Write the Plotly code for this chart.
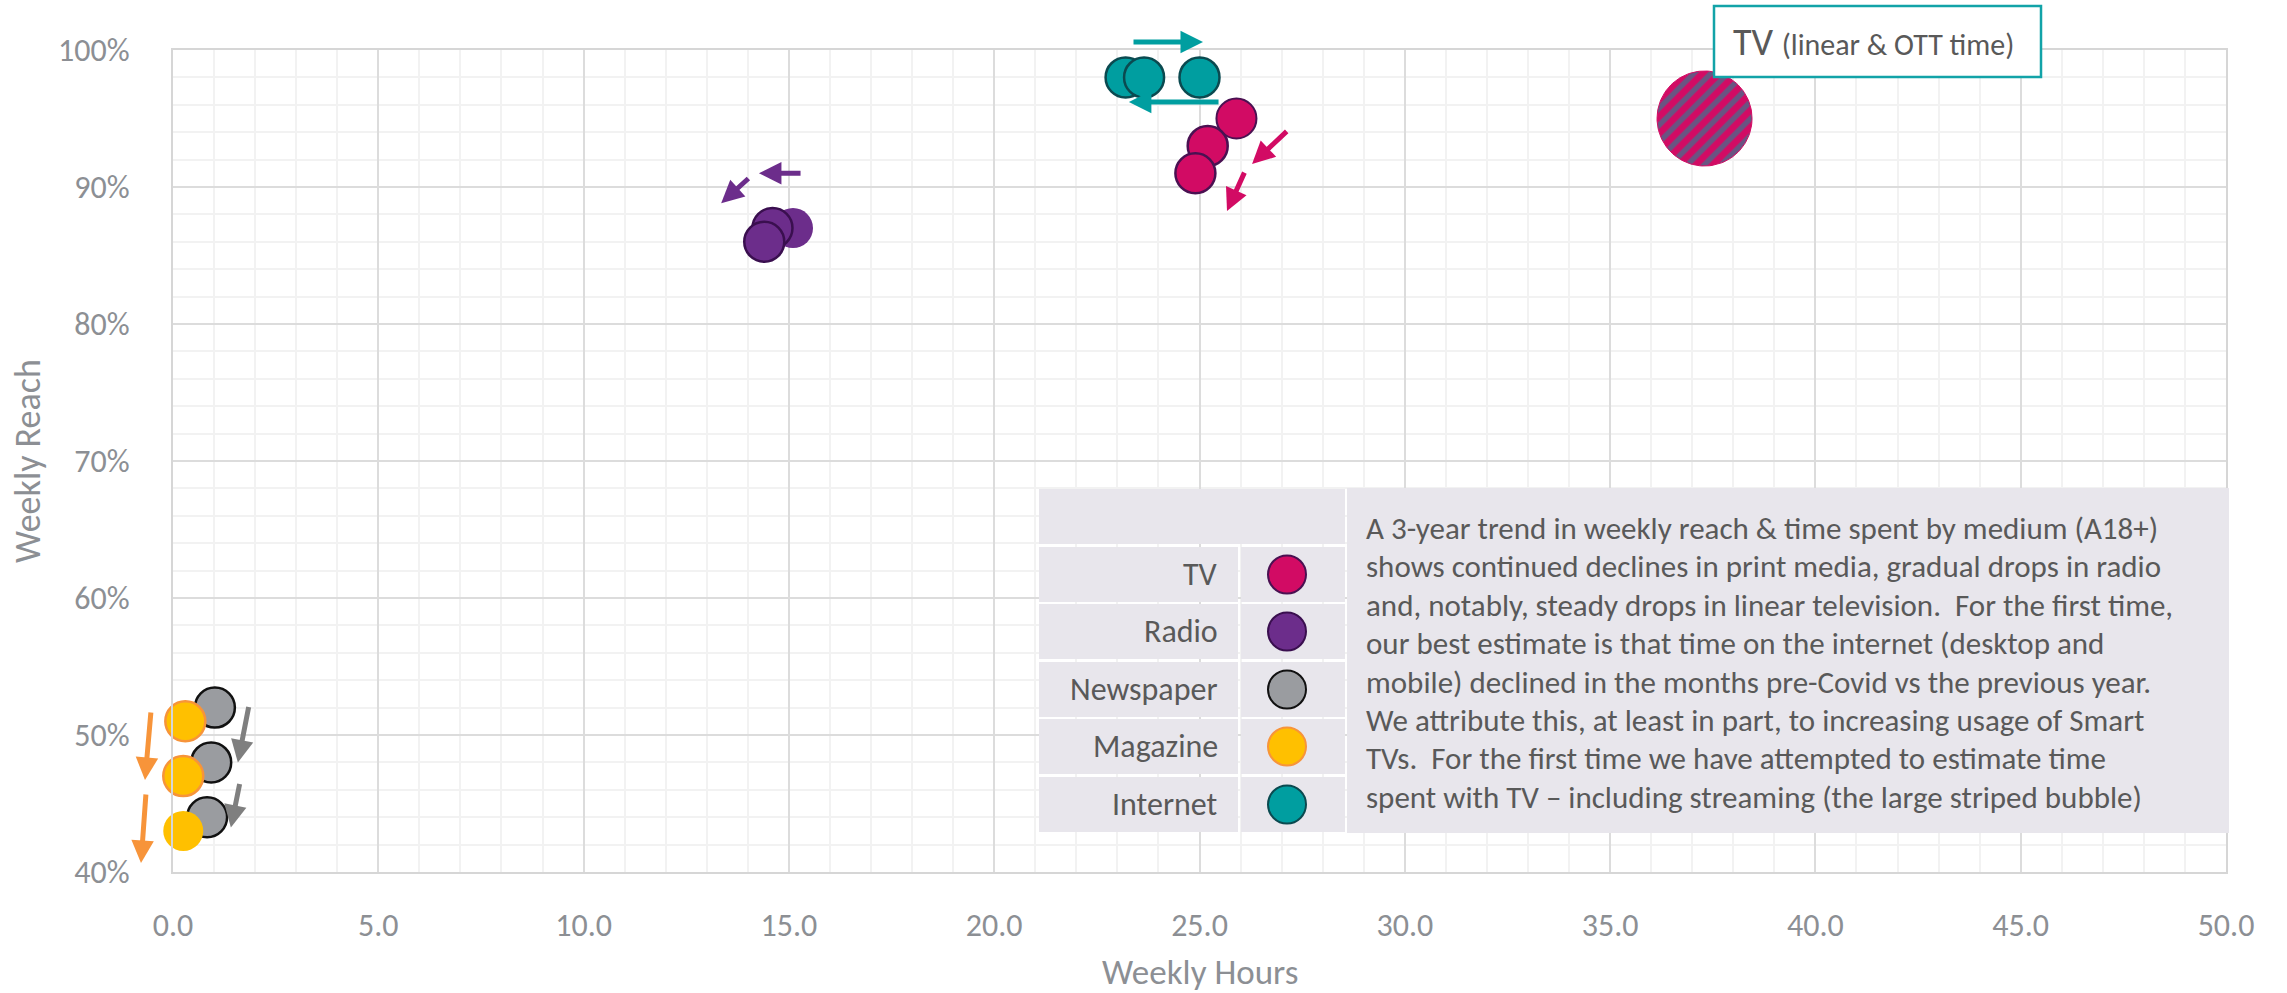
import numpy as np
import plotly.graph_objects as go

# ---------------- data ----------------
media = ["TV", "Radio", "Newspaper", "Magazine", "Internet"]

tv_hours = [25.9, 25.2, 24.9]
tv_reach = [95, 93, 91]
radio_hours = [15.1, 14.6, 14.4]
radio_reach = [87, 87, 86]
news_hours = [1.02, 0.93, 0.83]
news_reach = [52, 48, 44]
mag_hours = [0.3, 0.25, 0.25]
mag_reach = [51, 47, 43]
net_hours = [23.2, 25.0, 23.65]
net_reach = [98, 98, 98]

tv_total_hours = 37.3   # linear + OTT (striped bubble)
tv_total_reach = 95

x_ticks = [0, 5, 10, 15, 20, 25, 30, 35, 40, 45, 50]
y_ticks = [40, 50, 60, 70, 80, 90, 100]
y_tick_text = ["40%", "50%", "60%", "70%", "80%", "90%", "100%"]

note_lines = [
    "A 3-year trend in weekly reach & time spent by medium (A18+)",
    "shows continued declines in print media, gradual drops in radio",
    "and, notably, steady drops in linear television.  For the first time,",
    "our best estimate is that time on the internet (desktop and",
    "mobile) declined in the months pre-Covid vs the previous year.",
    "We attribute this, at least in part, to increasing usage of Smart",
    "TVs.  For the first time we have attempted to estimate time",
    "spent with TV \u2013 including streaming (the large striped bubble)",
]

# ---------------- styles ----------------
C_TV = "#D20B64"
C_RADIO = "#6C2D8B"
C_NEWS = "#9A9CA0"
C_MAG = "#FFC000"
C_NET = "#009EA0"
FONT = "Carlito, Lato, sans-serif"
AX_COL = "#8C8F94"
TXT_COL = "#595959"

W_PX, H_PX = 2287, 993
L, R, T, B = 173, 2226, 50, 872


def pxx(x):
    return (x - L) / (R - L)


def pxy(y):
    return (B - y) / (B - T)


fig = go.Figure()

BUB = 40


def add_series(hx, ry, color, lines, lwidths, name):
    fig.add_trace(go.Scatter(
        x=hx, y=ry, mode="markers", name=name, showlegend=False,
        marker=dict(size=BUB, color=color, opacity=1,
                    line=dict(color=lines, width=lwidths)),
        cliponaxis=False, hoverinfo="x+y+name"))


add_series(news_hours, news_reach, C_NEWS, "#111111", [2.5, 2.5, 2.5], "Newspaper")
add_series(mag_hours, mag_reach, C_MAG, "#F7943A", [2.5, 2.5, 0], "Magazine")
add_series(radio_hours, radio_reach, C_RADIO, "#3A0F4F", [0, 2.5, 2.5], "Radio")
add_series(net_hours, net_reach, C_NET, "#0B4A50", [2.5, 2.5, 2.5], "Internet")
add_series(tv_hours, tv_reach, C_TV, "#4A1152", [2, 2.5, 2.5], "TV")

# striped bubble: circle of 95 px diameter around the total-TV point
rad_px = 47.5
rx = rad_px * 50 / (R - L)
ry = rad_px * 60 / (B - T)
th = np.linspace(0, 2 * np.pi, 121)
fig.add_trace(go.Scatter(
    x=tv_total_hours + rx * np.cos(th), y=tv_total_reach + ry * np.sin(th),
    mode="lines", fill="toself", line=dict(color=C_TV, width=1),
    fillcolor=C_TV,
    fillpattern=dict(shape="/", fgcolor=C_NET, bgcolor=C_TV, size=12, solidity=0.45),
    showlegend=False, hoverinfo="skip"))

annotations = []
shapes = []

# arrows (tail x, tail y, head x, head y, colour) in data units
arrows = [
    (25.50, 96.2, 23.28, 96.2, C_NET),
    (27.16, 94.16, 26.28, 91.67, C_TV),
    (26.11, 91.16, 25.67, 88.24, C_TV),
    (15.32, 91.0, 14.27, 91.0, C_RADIO),
    (14.05, 90.72, 13.35, 88.82, C_RADIO),
    (1.85, 52.15, 1.58, 47.99, "#7F7F7F"),
    (1.63, 46.53, 1.41, 43.25, "#7F7F7F"),
]
for tx, ty, hx, hy, col in arrows:
    annotations.append(dict(x=hx, y=hy, ax=tx, ay=ty, xref="x", yref="y",
                            axref="x", ayref="y", text="", showarrow=True,
                            arrowhead=2, arrowsize=0.9, arrowwidth=5,
                            arrowcolor=col, standoff=0))
# arrows that sit outside the plot area -> paper/pixel refs
outside = [(1132, 42, 1203, 42, C_NET),
           (151, 711, 145, 780, "#F7943A"),
           (146, 793, 141, 863, "#F7943A")]
for (tx, ty, hx, hy, col) in outside:
    annotations.append(dict(x=pxx(hx), y=pxy(hy), xref="paper", yref="paper",
                            ax=tx - hx, ay=ty - hy, axref="pixel", ayref="pixel",
                            text="", showarrow=True, arrowhead=2, arrowsize=0.9,
                            arrowwidth=5, arrowcolor=col, standoff=0))

# TV title box
shapes.append(dict(type="rect", xref="paper", yref="paper",
                   x0=pxx(1714), x1=pxx(2041), y0=pxy(77), y1=pxy(6),
                   line=dict(color="#12A3A8", width=2.5), fillcolor="white", layer="above"))
annotations.append(dict(
    x=pxx(1731), y=pxy(42), xref="paper", yref="paper", xanchor="left", yanchor="middle",
    text="TV <span style='font-size:30px'>(linear &amp; OTT time)</span>",
    showarrow=False, font=dict(family=FONT, size=38, color=TXT_COL)))

# legend table
CELL = "#E8E6EC"
rows = [(547, 602), (604, 659), (662, 717), (719, 774), (777, 832)]
shapes.append(dict(type="rect", xref="paper", yref="paper",
                   x0=pxx(1039), x1=pxx(1345), y0=pxy(544), y1=pxy(489),
                   line=dict(width=0), fillcolor=CELL, layer="above"))
leg_cols = [C_TV, C_RADIO, C_NEWS, C_MAG, C_NET]
leg_lines = ["#4A1152", "#3A0F4F", "#111111", "#F7943A", "#0B4A50"]
for (y0, y1), name, col, lc in zip(rows, media, leg_cols, leg_lines):
    shapes.append(dict(type="rect", xref="paper", yref="paper",
                       x0=pxx(1039), x1=pxx(1238), y0=pxy(y1), y1=pxy(y0),
                       line=dict(width=0), fillcolor=CELL, layer="above"))
    shapes.append(dict(type="rect", xref="paper", yref="paper",
                       x0=pxx(1241), x1=pxx(1345), y0=pxy(y1), y1=pxy(y0),
                       line=dict(width=0), fillcolor=CELL, layer="above"))
    yc = (y0 + y1) / 2
    shapes.append(dict(type="circle", xref="paper", yref="paper",
                       x0=pxx(1287 - 19), x1=pxx(1287 + 19), y0=pxy(yc + 19), y1=pxy(yc - 19),
                       line=dict(color=lc, width=2), fillcolor=col, layer="above"))
    annotations.append(dict(x=pxx(1220), y=pxy(yc), xref="paper", yref="paper",
                            xanchor="right", yanchor="middle", text=name, showarrow=False,
                            font=dict(family=FONT, size=32, color=TXT_COL)))

# note box
shapes.append(dict(type="rect", xref="paper", yref="paper",
                   x0=pxx(1347), x1=pxx(2229), y0=pxy(833), y1=pxy(488),
                   line=dict(width=0), fillcolor=CELL, layer="above"))
for i, line in enumerate(note_lines):
    annotations.append(dict(x=pxx(1364), y=pxy(528 + 38.4 * i), xref="paper", yref="paper",
                            xanchor="left", yanchor="middle", text=line, showarrow=False,
                            font=dict(family=FONT, size=31, color=TXT_COL)))

# axis titles
annotations.append(dict(x=0.5, y=pxy(972), xref="paper", yref="paper", text="Weekly Hours",
                        showarrow=False, xanchor="center", yanchor="middle",
                        font=dict(family=FONT, size=35, color=AX_COL)))
annotations.append(dict(x=pxx(28), y=pxy(461), xref="paper", yref="paper", text="Weekly Reach",
                        showarrow=False, textangle=-90, xanchor="center", yanchor="middle",
                        font=dict(family=FONT, size=36, color=AX_COL)))

fig.update_layout(
    width=W_PX, height=H_PX, autosize=False,
    margin=dict(l=L, r=W_PX - R, t=T, b=H_PX - B, pad=0),
    paper_bgcolor="white", plot_bgcolor="white",
    shapes=shapes, annotations=annotations,
    font=dict(family=FONT, color=AX_COL),
    xaxis=dict(range=[0, 50], tickvals=x_ticks, tickformat=".1f",
               showgrid=True, gridcolor="#DCDCDC", gridwidth=1.5,
               minor=dict(dtick=1, showgrid=True, gridcolor="#F2F2F2", gridwidth=1.5),
               showline=True, linecolor="#D6D6D6", linewidth=2, mirror=True,
               zeroline=False, ticks="", ticklabelstandoff=24,
               tickfont=dict(family=FONT, size=32, color=AX_COL), fixedrange=True),
    yaxis=dict(range=[40, 100], tickvals=y_ticks, ticktext=y_tick_text,
               showgrid=True, gridcolor="#DCDCDC", gridwidth=1.5,
               minor=dict(dtick=2, showgrid=True, gridcolor="#F2F2F2", gridwidth=1.5),
               showline=True, linecolor="#D6D6D6", linewidth=2, mirror=True,
               zeroline=False, ticks="", ticklabelstandoff=35,
               tickfont=dict(family=FONT, size=32, color=AX_COL), fixedrange=True),
)

fig.write_html("out.html", config={"displayModeBar": False},
               post_script="document.body.style.margin='0px';")
